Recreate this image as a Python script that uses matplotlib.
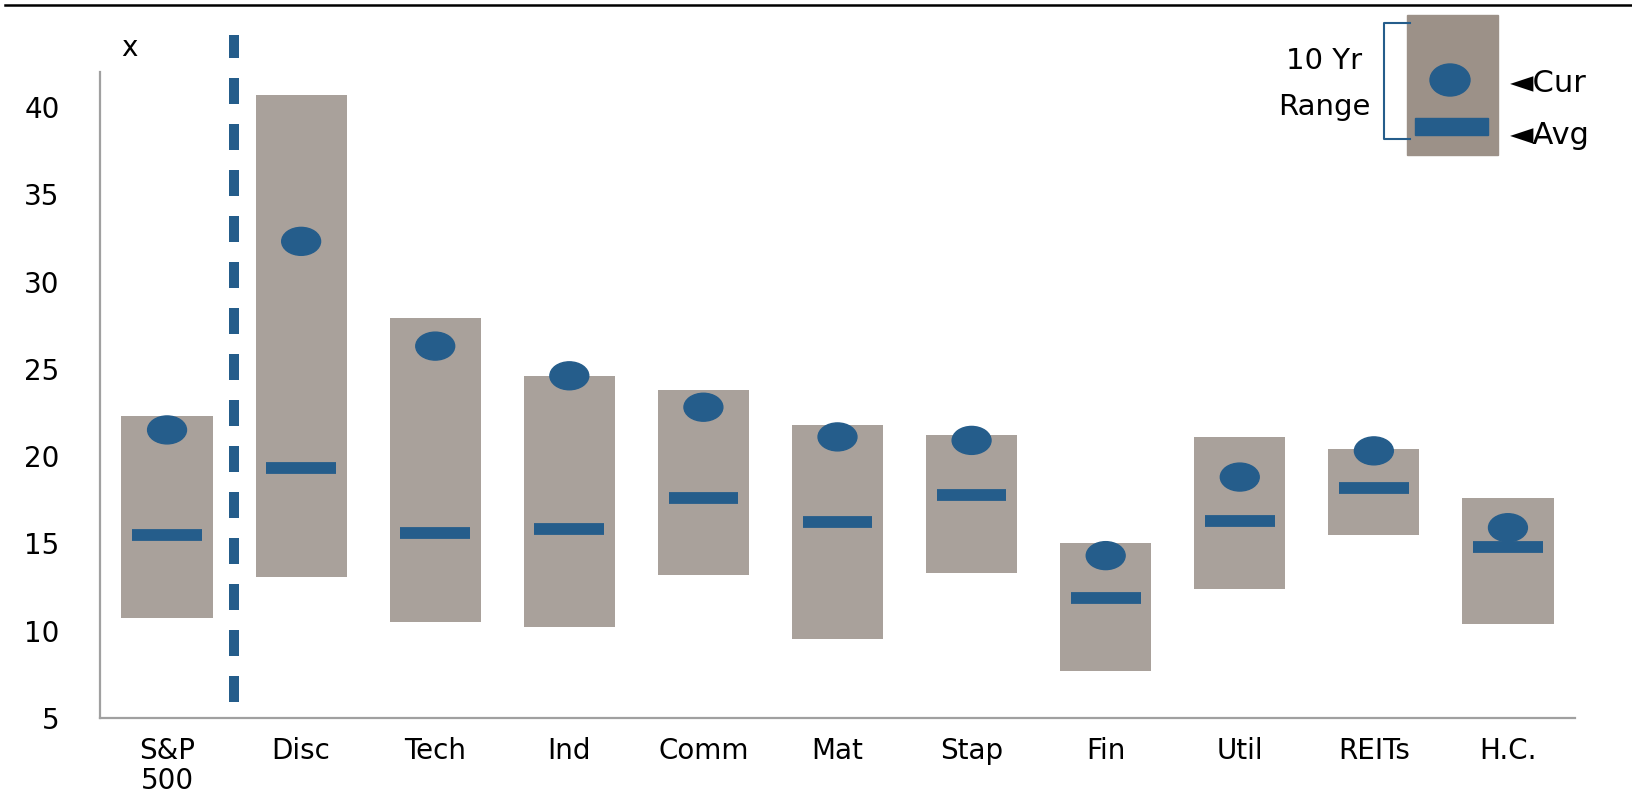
import matplotlib
matplotlib.use("Agg")
import matplotlib.pyplot as plt
from matplotlib.patches import Ellipse, Rectangle
from matplotlib.lines import Line2D

plt.rcParams["font.family"] = ["DejaVu Sans"]

# ---------------------------------------------------------
# Data: 10 yr range of forward P/E by sector
# ---------------------------------------------------------
sectors = ["S&P\n500", "Disc", "Tech", "Ind", "Comm", "Mat", "Stap",
           "Fin", "Util", "REITs", "H.C."]
range_high = [22.3, 40.7, 27.9, 24.6, 23.8, 21.8, 21.2, 15.0, 21.1, 20.4, 17.6]
range_low = [10.7, 13.1, 10.5, 10.2, 13.2, 9.5, 13.3, 7.7, 12.4, 15.5, 10.4]
current = [21.5, 32.3, 26.3, 24.6, 22.8, 21.1, 20.9, 14.3, 18.8, 20.3, 15.9]
average = [15.5, 19.3, 15.6, 15.8, 17.6, 16.2, 17.8, 11.9, 16.3, 18.2, 14.8]
y_ticks = [5, 10, 15, 20, 25, 30, 35, 40]

BOX = "#a9a19b"
BLUE = "#255d8b"

W, H = 1633, 796
fig = plt.figure(figsize=(W / 100, H / 100), dpi=100)
ax = fig.add_axes([100 / W, 1 - 718 / H, 1475 / W, 646 / H])

xs = list(range(len(sectors)))
ax.bar(xs, [h - l for h, l in zip(range_high, range_low)], bottom=range_low,
       width=0.68, color=BOX, zorder=1)
ax.hlines(average, [x - 0.26 for x in xs], [x + 0.26 for x in xs],
          color=BLUE, linewidth=8.5, capstyle="butt", zorder=2)
for x, c in zip(xs, current):
    ax.add_patch(Ellipse((x, c), 0.29, 1.6, color=BLUE, zorder=3))

# separator between index and sectors
ax.plot([0.5, 0.5], [5.9, 44.1], color=BLUE, linewidth=7.2,
        dashes=(2.6, 2.0), dash_capstyle="butt", clip_on=False, zorder=2)

ax.set_xlim(-0.5, len(sectors) - 0.5)
ax.set_ylim(5, 42)
ax.set_yticks(y_ticks)
ax.set_xticks(xs)
ax.set_xticklabels(sectors, fontsize=20, linespacing=1.05)
ax.tick_params(axis="y", length=0, pad=29, labelsize=20)
ax.tick_params(axis="x", length=0, pad=14)
for s in ["top", "right"]:
    ax.spines[s].set_visible(False)
for s in ["left", "bottom"]:
    ax.spines[s].set_color("#a0a0a0")
    ax.spines[s].set_linewidth(1.6)

fig.text(129 / W, 1 - 48 / H, "x", fontsize=20, ha="center", va="center")

# top rule
fig.add_artist(Line2D([5 / W, 1], [1 - 5 / H, 1 - 5 / H], color="black",
                      linewidth=1.8, transform=fig.transFigure))

# legend drawn in pixel space
lg = fig.add_axes([0, 0, 1, 1], zorder=5)
lg.set_xlim(0, W)
lg.set_ylim(H, 0)
lg.axis("off")
lg.add_patch(Rectangle((1407, 15), 91, 140, color="#9c9188"))
lg.add_patch(Ellipse((1450, 80), 40, 32, color=BLUE))
lg.add_patch(Rectangle((1415, 118), 73, 17, color=BLUE))
lg.plot([1410, 1384, 1384, 1410], [23, 23, 139, 139], color=BLUE, linewidth=1.5)
lg.text(1324, 61, "10 Yr", fontsize=21, ha="center", va="center")
lg.text(1324, 107, "Range", fontsize=21, ha="center", va="center")
lg.text(1510, 84, "\u25c4Cur", fontsize=22, ha="left", va="center")
lg.text(1510, 136, "\u25c4Avg", fontsize=22, ha="left", va="center")

fig.savefig("out.png", dpi=100, facecolor="white")
